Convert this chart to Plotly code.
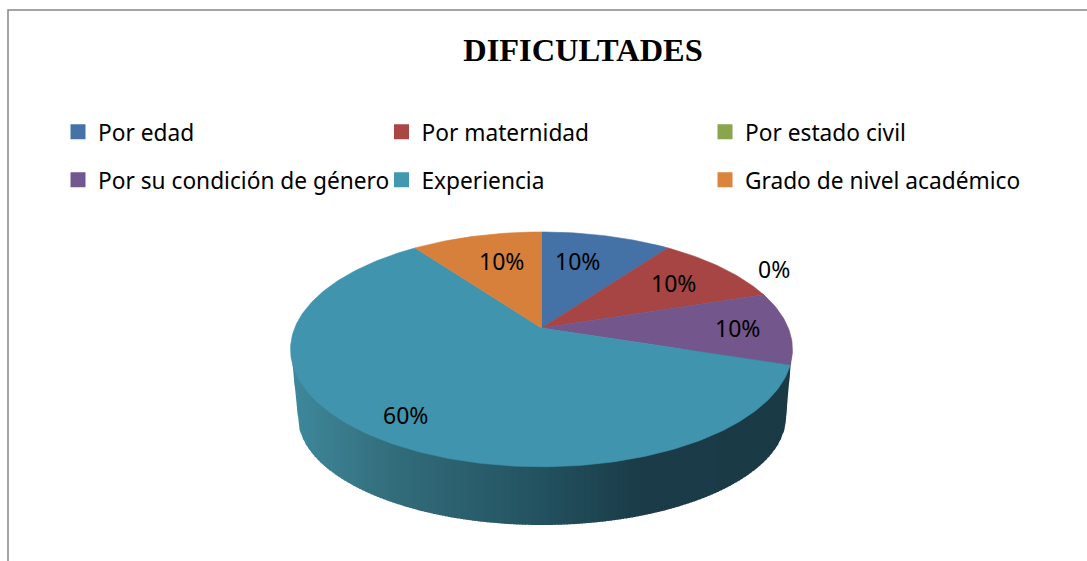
import numpy as np
import plotly.graph_objects as go

TITLE = "DIFICULTADES"
categories = ["Por edad", "Por maternidad", "Por estado civil",
              "Por su condición de género", "Experiencia", "Grado de nivel académico"]
values = [10, 10, 0, 10, 60, 10]
colors_top = ["#4471A6", "#A64543", "#8BA94F", "#72568C", "#4094AD", "#D7803C"]
colors_legend = ["#4573A7", "#AA4644", "#89A54E", "#71588F", "#4198AF", "#DB843D"]
label_pos = [(577, 261), (673, 283), (774, 269), (737, 328), (405, 415), (501, 261)]

# perspective ellipse model, in pixel-like axis units
APEX = (541.5, 328.0)
A_, B_, P_ = 246.8, 113.5, 0.182
LOW = (542.0, 417.0, 244.0, 108.0)
FONT = "Noto Sans"


def project(theta):
    u, v = np.sin(theta), np.cos(theta)
    d = 1 + P_ * v
    return APEX[0] + A_ * u / d, APEX[1] - B_ * v / d


fig = go.Figure()

# side wall with a horizontal shading
stops_x = [291, 340, 400, 500, 550, 640, 793]
stops_c = [(62, 137, 157), (58, 124, 141), (50, 108, 122), (40, 90, 104), (35, 80, 94), (27, 60, 72), (26, 58, 70)]
ell_cy = 349.5
xl, xr = 291.0, 792.0
edges = np.linspace(xl, xr, 170)


def lower(x):
    cx, cy, a, b = LOW
    lx, rx = cx - a, cx + a
    if x < lx:
        return ell_cy + (x - xl) / (lx - xl) * (cy - ell_cy)
    if x > rx:
        return ell_cy + (xr - x) / (xr - rx) * (cy - ell_cy)
    return cy + b * np.sqrt(max(0.0, 1 - ((x - cx) / a) ** 2))


for i in range(len(edges) - 1):
    x0, x1 = edges[i], edges[i + 1]
    xs = np.linspace(x0, min(x1 + 1, xr), 4)
    ys = [lower(x) for x in xs]
    mid = (x0 + x1) / 2
    rgb = [int(np.interp(mid, stops_x, [c[k] for c in stops_c])) for k in range(3)]
    col = f"rgb({rgb[0]},{rgb[1]},{rgb[2]})"
    fig.add_trace(go.Scatter(
        x=list(xs) + [xs[-1], xs[0]], y=ys + [ell_cy, ell_cy],
        mode="lines", fill="toself", fillcolor=col, line=dict(width=0),
        hoverinfo="skip", showlegend=False))

# top face wedges from the values
total = sum(values)
start = 0.0
for name, val, col in zip(categories, values, colors_top):
    sweep = val / total * 2 * np.pi
    if val > 0:
        t = np.linspace(start, start + sweep, max(3, int(val * 4)))
        px, py = project(t)
        fig.add_trace(go.Scatter(
            x=[APEX[0]] + list(px) + [APEX[0]], y=[APEX[1]] + list(py) + [APEX[1]],
            mode="lines", fill="toself", fillcolor=col, line=dict(width=0.6, color=col),
            hoverinfo="skip", showlegend=False))
    start += sweep

# legend entries
for i, (name, col) in enumerate(zip(categories, colors_legend)):
    fig.add_trace(go.Scatter(
        x=[None], y=[None], mode="markers", name=name,
        marker=dict(symbol="square", size=15, color=col),
        legend="legend" if i < 3 else "legend2"))

for val, (x, y) in zip(values, label_pos):
    fig.add_annotation(x=x, y=y, xref="x", yref="y", text=f"{val}%", showarrow=False,
                       font=dict(family=FONT, size=23, color="#000000"))

leg = dict(orientation="h", xanchor="left", yanchor="middle", x=58 / 1087,
           entrywidth=278.5, entrywidthmode="pixels", bgcolor="rgba(0,0,0,0)",
           font=dict(family=FONT, size=22.7, color="#000000"), itemclick=False, itemdoubleclick=False)

fig.update_layout(
    width=1087, height=561, margin=dict(l=0, r=0, t=0, b=0),
    paper_bgcolor="white", plot_bgcolor="white", showlegend=True,
    xaxis=dict(range=[0, 1087], visible=False, fixedrange=True),
    yaxis=dict(range=[561, 0], visible=False, fixedrange=True),
    title=dict(text=f"<b>{TITLE}</b>", x=583 / 1087, xanchor="center", y=1 - 50 / 561, yanchor="middle",
               font=dict(family="Liberation Serif", size=32.4, color="#000000")),
    legend=dict(leg, y=1 - 132 / 561),
    legend2=dict(leg, y=1 - 180 / 561),
    shapes=[dict(type="path", xref="x", yref="y", path="M 8,561 L 8,10 L 1087,10",
                 line=dict(color="#868686", width=1.5))],
)
fig.write_html("out.html", config={"displayModeBar": False},
               post_script="document.body.style.margin='0';document.body.style.overflow='hidden';")
